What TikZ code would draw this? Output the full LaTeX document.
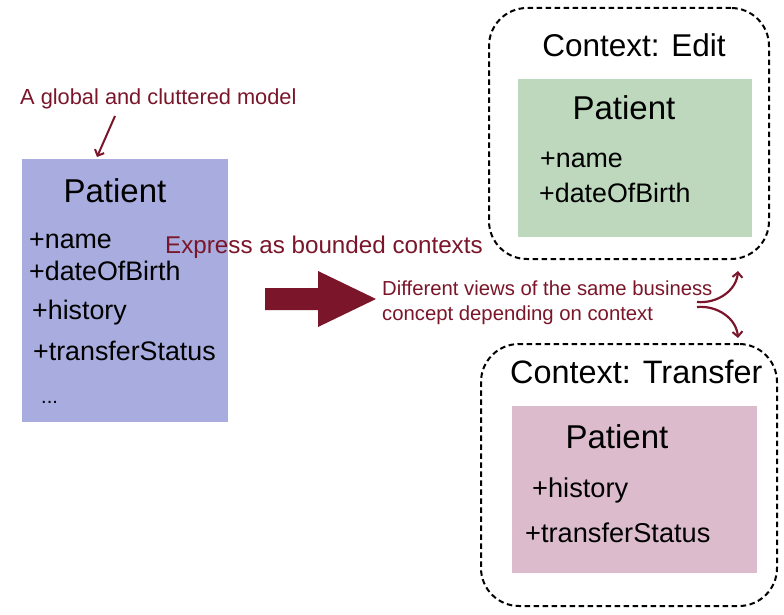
\documentclass[tikz,border=0pt]{standalone}
\usepackage{fontspec}
\setmainfont{Liberation Sans}
\usetikzlibrary{arrows.meta}
\definecolor{dred}{RGB}{123,22,42}
\definecolor{bluefill}{RGB}{168,172,222}
\definecolor{greenfill}{RGB}{190,216,189}
\definecolor{pinkfill}{RGB}{220,188,204}
\tikzset{
  classbox/.style={draw=none, minimum width=#1, anchor=north west, inner sep=0pt},
  ctxbox/.style={draw=black, line width=2pt, dash pattern=on 5.5pt off 3.5pt, rounded corners=38pt, anchor=north west, inner sep=0pt},
  redtext/.style={text=dred, inner sep=0pt},
  blacktext/.style={text=black, inner sep=0pt},
  redarrow/.style={draw=dred, line width=2.2pt, -{Straight Barb[length=5pt,width=10pt,line width=2pt]}},
}
\begin{document}
\begin{tikzpicture}[x=1pt,y=-1pt]
\useasboundingbox (0,0) rectangle (784,615);
\fill[white] (0,0) rectangle (784,615);

% global model
\node[classbox=206pt, fill=bluefill, minimum height=263pt] (global) at (22,159) {};
\node[blacktext, anchor=base, font=\fontsize{33}{33}\selectfont] (gp) at (115,202) {Patient};
\node[blacktext, anchor=base west, font=\fontsize{26.8}{26.8}\selectfont] (g1) at (29,248) {+name};
\node[blacktext, anchor=base west, font=\fontsize{26.8}{26.8}\selectfont] (g2) at (29,280) {+dateOfBirth};
\node[blacktext, anchor=base west, font=\fontsize{26.8}{26.8}\selectfont] (g3) at (32,319) {+history};
\node[blacktext, anchor=base west, font=\fontsize{26.8}{26.8}\selectfont] (g4) at (33,360) {+transferStatus};
\node[blacktext, anchor=base west, font=\fontsize{20}{20}\selectfont] (g5) at (41,403) {...};

% label and arrow
\node[redtext, anchor=base west, font=\fontsize{21.8}{21.8}\selectfont] (glabel) at (20,105) {A global and cluttered model};
\coordinate (ga) at (115,116);
\coordinate (gb) at (97,157);
\draw[redarrow, line width=2pt] (ga) -- (gb);

% express label
\node[redtext, anchor=base west, font=\fontsize{24.2}{24.2}\selectfont] (express) at (165,253) {Express as bounded contexts};

% big arrow
\fill[dred] (265,288) -- (318,288) -- (318,271) -- (376,299) -- (318,327) -- (318,310) -- (265,310) -- cycle;

% different views
\node[redtext, anchor=base west, font=\fontsize{20.3}{20.3}\selectfont] (views1) at (382,295) {Different views of the same business};
\node[redtext, anchor=base west, font=\fontsize{20.3}{20.3}\selectfont] (views2) at (382,320) {concept depending on context};

% edit context
\node[ctxbox, minimum width=280pt, minimum height=251pt] (edit) at (488,7) {};
\node[blacktext, anchor=base, font=\fontsize{31.5}{31.5}\selectfont] (edittitle) at (634,57) {Context: Edit};
\node[classbox=234pt, fill=greenfill, minimum height=158pt] (editbox) at (518,79) {};
\node[blacktext, anchor=base, font=\fontsize{33}{33}\selectfont] (ep) at (624,120) {Patient};
\node[blacktext, anchor=base west, font=\fontsize{26.8}{26.8}\selectfont] (e1) at (540,167) {+name};
\node[blacktext, anchor=base west, font=\fontsize{26.8}{26.8}\selectfont] (e2) at (539,202) {+dateOfBirth};

% transfer context
\node[ctxbox, minimum width=296pt, minimum height=262pt] (transfer) at (480,343) {};
\node[blacktext, anchor=base west, font=\fontsize{32.4}{32.4}\selectfont] (transtitle) at (510,383) {Context: Transfer};
\node[classbox=245pt, fill=pinkfill, minimum height=167pt] (transbox) at (512,406) {};
\node[blacktext, anchor=base, font=\fontsize{33}{33}\selectfont] (tp) at (617,448) {Patient};
\node[blacktext, anchor=base west, font=\fontsize{27.2}{27.2}\selectfont] (t1) at (532,497) {+history};
\node[blacktext, anchor=base west, font=\fontsize{27.2}{27.2}\selectfont] (t2) at (525,542) {+transferStatus};

% small curved arrows
\coordinate (s1) at (697,302);
\coordinate (s1t) at (738,271);
\coordinate (s2) at (697,307);
\coordinate (s2t) at (738,338);
\draw[redarrow] (s1) to[out=-5, in=-95] (s1t);
\draw[redarrow] (s2) to[out=5, in=95] (s2t);
\end{tikzpicture}
\end{document}
